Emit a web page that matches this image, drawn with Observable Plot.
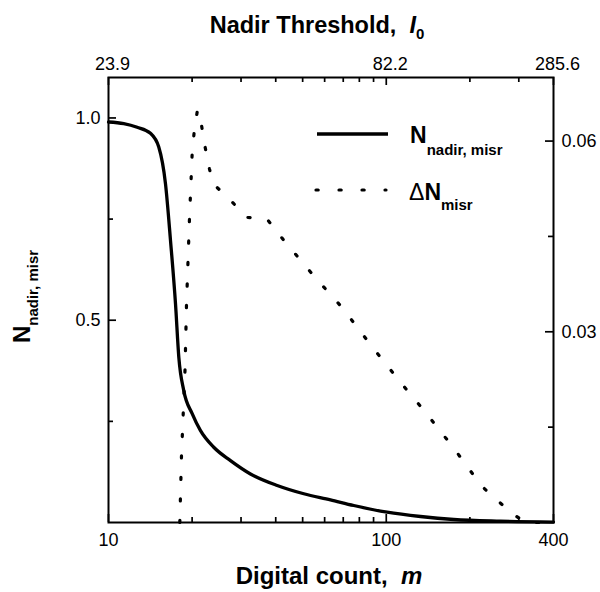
<!DOCTYPE html>
<html>
<head>
<meta charset="utf-8">
<script src="https://cdn.jsdelivr.net/npm/d3@7"></script>
<script src="https://cdn.jsdelivr.net/npm/@observablehq/plot@0.6"></script>
<style>
  body { margin: 0; background: #fff; }
  #chart { width: 600px; height: 592px; }
</style>
</head>
<body>
<div id="chart"></div>
<script>
// Nadir pixel fraction N_nadir,misr (left axis) and its difference ΔN_misr (right axis)
// against the digital count m; the top axis gives the matching nadir threshold I0.

const counts = [10, 11.35, 12.68, 14.16, 15.17, 16.04, 16.72, 17.43, 17.91, 18.66, 20.01, 21.44,
  23.93, 27.49, 32.44, 40.49, 50.47, 62.97, 76.38, 100.7, 132.8, 175, 257.6, 400];
const nadirFraction = [0.990, 0.986, 0.977, 0.962, 0.928, 0.837, 0.697, 0.54, 0.409, 0.326, 0.269, 0.227,
  0.186, 0.153, 0.120, 0.0915, 0.071, 0.056, 0.042, 0.0255, 0.0148, 0.0074, 0.0032, 0.001];

const deltaCounts = [18.06, 18.31, 18.86, 19.09, 19.57, 20.01, 20.35, 20.91, 21.62, 22.29, 23.10, 23.78,
  27.49, 31.4, 37.27, 42.55, 54.83, 69.73, 88.69, 111.8, 139.5, 175.6, 220.1, 249.3, 289.4, 316.9, 368];
const deltaN = [0, 0.0104, 0.0241, 0.03425, 0.04787, 0.0581, 0.0615, 0.0649, 0.0625, 0.0590, 0.0556, 0.0533,
  0.0507, 0.0480, 0.0477, 0.0445, 0.0388, 0.0337, 0.0277, 0.0222, 0.01715, 0.0116, 0.00577, 0.00357, 0.00118, 0, 0];

const xMajorTicks = [10, 100, 400];
const bottomTickLabels = ["10", "100", "400"];
const topTickLabels = ["23.9", "82.2", "285.6"];
const xMinorTicks = [20, 30, 40, 50, 60, 70, 80, 90, 200, 300];
const leftMajorTicks = [0.5, 1.0];
const leftMinorTicks = [0.25, 0.75];
const rightMajorTicks = [0.03, 0.06];
const rightMinorTicks = [0.015, 0.045];

// Left axis runs 0–1.1, right axis 0–0.07; ΔN is drawn on the left scale via this ratio.
const yMax = 1.1, y2Max = 0.07, k = yMax / y2Max;

const W = 600, H = 592;
const mL = 108, mR = 47, mT = 77, mB = 70;
const innerW = W - mL - mR, innerH = H - mT - mB;

const solidData = counts.map((m, i) => ({m, v: nadirFraction[i]}));
const dottedData = deltaCounts.map((m, i) => ({m, v: deltaN[i] * k}));

const tickStyle = {stroke: "black", strokeWidth: 1.7};
const labelFont = 18;
const dotStyle = {stroke: "black", strokeWidth: 3.2, strokeDasharray: "2.2,19.3", strokeLinecap: "round"};

const svg = Plot.plot({
  width: W,
  height: H,
  marginLeft: mL, marginRight: mR, marginTop: mT, marginBottom: mB,
  style: {fontFamily: "'Liberation Sans', Arial, Helvetica, sans-serif", background: "white", color: "black"},
  x: {type: "log", domain: [10, 400]},
  y: {domain: [0, yMax]},
  marks: [
    Plot.line(solidData, {x: "m", y: "v", stroke: "black", strokeWidth: 3.3, curve: "monotone-x"}),
    Plot.line(dottedData, {x: "m", y: "v", ...dotStyle}),

    // inward ticks, bottom and top
    Plot.tickX(xMinorTicks, {x: d => d, insetTop: innerH - 5, ...tickStyle}),
    Plot.tickX(xMajorTicks, {x: d => d, insetTop: innerH - 8, ...tickStyle}),
    Plot.tickX(xMinorTicks, {x: d => d, insetBottom: innerH - 5, ...tickStyle}),
    Plot.tickX(xMajorTicks, {x: d => d, insetBottom: innerH - 8, ...tickStyle}),
    // inward ticks, left and right
    Plot.tickY(leftMinorTicks, {y: d => d, insetRight: innerW - 5, ...tickStyle}),
    Plot.tickY(leftMajorTicks, {y: d => d, insetRight: innerW - 8, ...tickStyle}),
    Plot.tickY(rightMinorTicks.map(v => v * k), {y: d => d, insetLeft: innerW - 5, ...tickStyle}),
    Plot.tickY(rightMajorTicks.map(v => v * k), {y: d => d, insetLeft: innerW - 8, ...tickStyle}),

    Plot.axisX(xMajorTicks, {anchor: "bottom", label: null, tickSize: 0, tickPadding: 11, fontSize: labelFont,
      tickFormat: d => bottomTickLabels[xMajorTicks.indexOf(d)]}),
    Plot.axisX(xMajorTicks, {anchor: "top", label: null, tickSize: 0, tickPadding: 8, fontSize: labelFont, dx: 4,
      tickFormat: d => topTickLabels[xMajorTicks.indexOf(d)]}),
    Plot.axisY(leftMajorTicks, {anchor: "left", label: null, tickSize: 0, tickPadding: 8, fontSize: labelFont,
      tickFormat: d => d.toFixed(1)}),
    Plot.axisY(rightMajorTicks.map(v => v * k), {anchor: "right", label: null, tickSize: 0, tickPadding: 8,
      fontSize: labelFont, tickFormat: d => (d / k).toFixed(2)}),

    Plot.frame({stroke: "black", strokeWidth: 2})
  ]
});

const root = d3.select(svg);
const textFont = "'Liberation Sans', Arial, Helvetica, sans-serif";

// Top title: Nadir Threshold, I0
const topTitle = root.append("text")
  .attr("x", 317).attr("y", 33)
  .attr("text-anchor", "middle")
  .attr("font-family", textFont).attr("font-weight", "bold").attr("font-size", 23.5).attr("fill", "black");
topTitle.append("tspan").text("Nadir Threshold,\u00a0\u00a0");
topTitle.append("tspan").attr("font-style", "italic").text("I");
topTitle.append("tspan").attr("font-size", 15).attr("dy", 6).text("0");

// Bottom title: Digital count, m
const bottomTitle = root.append("text")
  .attr("x", 329).attr("y", 584)
  .attr("text-anchor", "middle")
  .attr("font-family", textFont).attr("font-weight", "bold").attr("font-size", 24).attr("fill", "black");
bottomTitle.append("tspan").text("Digital count,\u00a0\u00a0");
bottomTitle.append("tspan").attr("font-style", "italic").text("m");

// Left title: N_nadir, misr (rotated)
const leftTitle = root.append("text")
  .attr("transform", `translate(30,${mT + innerH / 2 - 3}) rotate(-90)`)
  .attr("text-anchor", "middle")
  .attr("font-family", textFont).attr("font-weight", "bold").attr("font-size", 24).attr("fill", "black");
leftTitle.append("tspan").text("N");
leftTitle.append("tspan").attr("font-size", 15).attr("dy", 8).text("nadir, misr");

// Legend
const legend = root.append("g")
  .attr("font-family", textFont).attr("fill", "black").attr("text-anchor", "start");
legend.append("line")
  .attr("x1", 317).attr("x2", 388).attr("y1", 134).attr("y2", 134)
  .attr("stroke", "black").attr("stroke-width", 3.3);
const entry1 = legend.append("text").attr("x", 410).attr("y", 143).attr("font-weight", "bold").attr("font-size", 23);
entry1.append("tspan").text("N");
entry1.append("tspan").attr("font-size", 15).attr("dy", 12).text("nadir, misr");

legend.append("line")
  .attr("x1", 316).attr("x2", 386).attr("y1", 190).attr("y2", 190)
  .attr("stroke", "black").attr("stroke-width", 3.2)
  .attr("stroke-dasharray", "2.2,20.8").attr("stroke-linecap", "round");
const entry2 = legend.append("text").attr("x", 409).attr("y", 200).attr("font-size", 23);
entry2.append("tspan").attr("font-weight", "normal").text("\u0394");
entry2.append("tspan").attr("font-weight", "bold").text("N");
entry2.append("tspan").attr("font-weight", "bold").attr("font-size", 15).attr("dy", 10).text("misr");

document.getElementById("chart").appendChild(svg);
</script>
</body>
</html>
